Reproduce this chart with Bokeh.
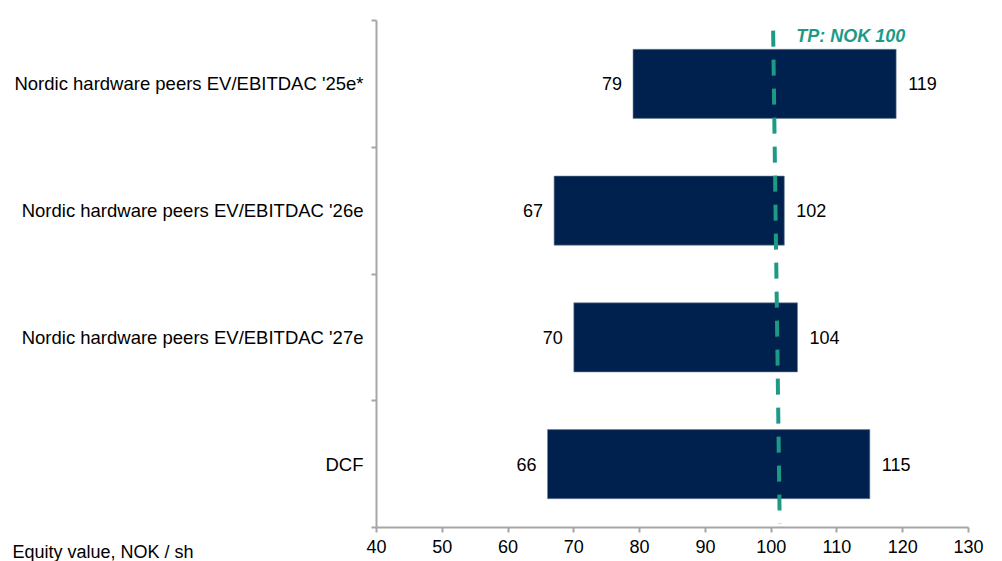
from bokeh.plotting import figure
from bokeh.models import (Range1d, LinearAxis, FixedTicker, ColumnDataSource,
                          Label, LabelSet)
from bokeh.core.properties import value
from bokeh.embed import file_html
from bokeh.resources import INLINE

# Valuation ranges, equity value per share (NOK)
methods = [
    "Nordic hardware peers EV/EBITDAC '25e*",
    "Nordic hardware peers EV/EBITDAC '26e",
    "Nordic hardware peers EV/EBITDAC '27e",
    "DCF",
]
low_values = [79, 67, 70, 66]
high_values = [119, 102, 104, 115]

# Target price marker
tp_label = "TP: NOK 100"
tp_line_x = [100.3, 101.3]
tp_line_y = [3.92, 0.03]

x_ticks = [40, 50, 60, 70, 80, 90, 100, 110, 120, 130]
x_caption = "Equity value, NOK / sh"

NAVY = "#00214D"
TEAL = "#1D9A86"
GREY = "#A6A6A6"
FONT = "Liberation Sans"
FS = "18px"

n = len(methods)
# first method sits at the top band
centers = [n - i - 0.5 for i in range(n)]
bounds = list(range(n + 1))

src = ColumnDataSource(dict(
    y=centers,
    low=low_values,
    high=high_values,
    low_txt=[str(v) for v in low_values],
    high_txt=[str(v) for v in high_values],
))

p = figure(
    width=1002, height=561,
    y_range=Range1d(0, n),
    x_range=Range1d(40, 130),
    output_backend="svg", toolbar_location=None,
    x_axis_location=None, y_axis_location=None,
    min_border_left=376, min_border_right=34,
    min_border_top=12, min_border_bottom=34,
)
p.outline_line_color = None
p.grid.visible = False
p.background_fill_color = "white"
p.border_fill_color = "white"

# x axis
xaxis = LinearAxis(ticker=FixedTicker(ticks=x_ticks))
xaxis.axis_line_color = GREY
xaxis.axis_line_width = 2
xaxis.major_tick_line_color = GREY
xaxis.major_tick_line_width = 2
xaxis.major_tick_out = 5
xaxis.major_tick_in = 0
xaxis.minor_tick_line_color = None
xaxis.major_label_standoff = 7
xaxis.major_label_text_font = FONT
xaxis.major_label_text_font_size = FS
xaxis.major_label_text_color = "#000000"
p.add_layout(xaxis, "below")

# y axis: method names at band centres, short ticks at band boundaries
yaxis = LinearAxis(ticker=FixedTicker(ticks=centers, minor_ticks=bounds),
                   major_label_overrides={c: m for c, m in zip(centers, methods)})
yaxis.axis_line_color = GREY
yaxis.axis_line_width = 2
yaxis.major_tick_line_color = None
yaxis.major_tick_out = 0
yaxis.major_tick_in = 0
yaxis.minor_tick_line_color = GREY
yaxis.minor_tick_line_width = 2
yaxis.minor_tick_out = 5
yaxis.minor_tick_in = 0
yaxis.major_label_standoff = 8
yaxis.major_label_text_font = FONT
yaxis.major_label_text_font_size = "18.5px"
yaxis.major_label_text_color = "#000000"
p.add_layout(yaxis, "left")

# valuation range bars
p.hbar(y="y", left="low", right="high", height=0.545, source=src,
       fill_color=NAVY, line_color="#6d7f99", line_width=0.6)

# low / high value labels
p.add_layout(LabelSet(x="low", y="y", text="low_txt", source=src,
                      x_offset=-11, text_align="right", text_baseline="middle",
                      text_font=value(FONT), text_font_size=value(FS),
                      text_color="#000000"))
p.add_layout(LabelSet(x="high", y="y", text="high_txt", source=src,
                      x_offset=12, text_align="left", text_baseline="middle",
                      text_font=value(FONT), text_font_size=value(FS),
                      text_color="#000000"))

# target price line
p.line(x=tp_line_x, y=tp_line_y,
       line_color=TEAL, line_width=4, line_dash="16 13")
p.add_layout(Label(x=tp_line_x[0], y=tp_line_y[0],
                   text=tp_label, x_offset=23, y_offset=-5,
                   text_align="left", text_baseline="middle",
                   text_font=FONT, text_font_size=FS, text_font_style="bold italic",
                   text_color=TEAL))

# x axis caption in the bottom-left corner (canvas coordinates); it is held
# by the top panel so that the frame does not clip it
p.add_layout(Label(x=12, y=551, x_units="canvas", y_units="canvas",
                   text=x_caption, text_align="left",
                   text_baseline="middle", text_font=FONT, text_font_size=FS,
                   text_color="#000000"), "above")

open("out.html", "w").write(file_html(p, INLINE))
